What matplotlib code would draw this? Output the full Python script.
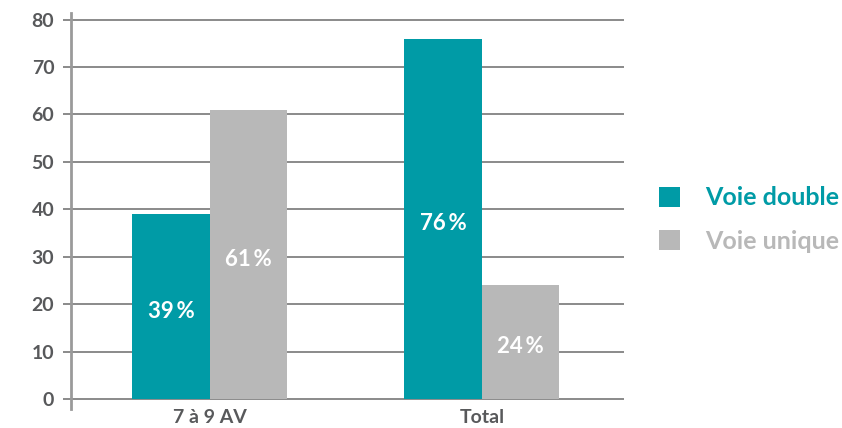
import matplotlib.pyplot as plt
import numpy as np

categories = ['7 à 9 AV', 'Total']
series = ['Voie double', 'Voie unique']
voie_double = [39, 76]
voie_unique = [61, 24]
yticks = [0, 10, 20, 30, 40, 50, 60, 70, 80]

teal = '#009ba6'
grey = '#b8b8b8'
text_col = '#58595b'
grid_col = '#8a8a8a'

plt.rcParams['font.family'] = ['Lato', 'DejaVu Sans']

fig = plt.figure(figsize=(8.42, 4.28), dpi=100)
ax = fig.add_axes([0.0843, 0.0444, 0.6567, 0.9252])

x = np.arange(len(categories))
w = 0.285
b1 = ax.bar(x - w / 2, voie_double, w, color=teal, zorder=3, label=series[0])
b2 = ax.bar(x + w / 2, voie_unique, w, color=grey, zorder=3, label=series[1])

# percentage labels inside the bars
for bars, vals in [(b1, voie_double), (b2, voie_unique)]:
    for rect, v in zip(bars, vals):
        ax.text(rect.get_x() + rect.get_width() / 2, v / 2 - 1, f'{v}\u2009%',
                ha='center', va='center', color='white', fontsize=16,
                fontweight='bold', zorder=4)

ax.set_xlim(-0.511, 1.522)
ax.set_ylim(-2.1, 81.4)
ax.set_yticks(yticks)
ax.yaxis.grid(True, color=grid_col, linewidth=1.4, zorder=1)
ax.set_axisbelow(True)

for s in ['top', 'right', 'bottom']:
    ax.spines[s].set_visible(False)
ax.spines['left'].set_color('#9a9a9a')
ax.spines['left'].set_linewidth(2)

ax.tick_params(axis='y', length=6, width=1.4, color=grid_col, pad=6,
               labelsize=14, labelcolor=text_col)
for t in ax.get_yticklabels():
    t.set_fontweight('bold')

ax.set_xticks(x)
ax.set_xticklabels(categories, fontsize=14, fontweight='bold', color=text_col)
ax.tick_params(axis='x', length=0, pad=0)

leg = fig.legend(handles=[b1, b2], labels=series, loc='center left',
                 bbox_to_anchor=(0.756, 0.487), frameon=False,
                 fontsize=18, handlelength=0.85, handleheight=0.85,
                 handletextpad=1.0, labelspacing=0.82)
for txt, c in zip(leg.get_texts(), [teal, grey]):
    txt.set_color(c)
    txt.set_fontweight('bold')

fig.savefig('out.png', dpi=100)
